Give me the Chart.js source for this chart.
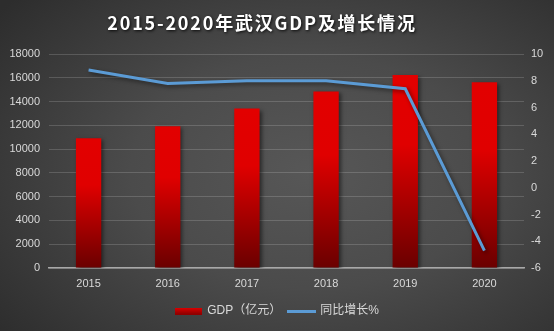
<!DOCTYPE html>
<html>
<head>
<meta charset="utf-8">
<script src="https://cdn.jsdelivr.net/npm/chart.js@4.4.1/dist/chart.umd.min.js"></script>
<style>
  html, body { margin: 0; padding: 0; }
  body { width: 554px; height: 331px; overflow: hidden; }
  #wrap {
    position: relative; width: 554px; height: 331px;
    background: radial-gradient(ellipse 72% 78% at 56% 52%, #575757 0%, #4b4b4b 45%, #2d2d2d 100%);
  }
</style>
</head>
<body>
<div id="wrap"><canvas id="c" width="554" height="331"></canvas></div>
<script>
// Wuhan GDP 2015-2020 and year-on-year growth
const titleText = '2015-2020年武汉GDP及增长情况';
const years = ['2015', '2016', '2017', '2018', '2019', '2020'];
const gdp = [10905.6, 11912.6, 13410.3, 14847.3, 16223.2, 15616.1];
const growth = [8.8, 7.8, 8.0, 8.0, 7.4, -4.7];
const gdpLabel = 'GDP（亿元）';
const growthLabel = '同比增长%';
const gdpTicks = { min: 0, max: 18000, step: 2000 };
const growthTicks = { min: -6, max: 10, step: 2 };

const TEXT = '#d9d9d9';
const BLUE = '#5b9bd5';
const FONT = '"Liberation Sans", "Noto Sans CJK SC", sans-serif';

// vertical red-to-dark-red fill, one gradient per bar
function barFill(ctx) {
  const chart = ctx.chart;
  if (!chart.chartArea || ctx.type !== 'data') return '#e00000';
  const ys = chart.scales.y;
  const top = ys.getPixelForValue(ctx.raw);
  const bottom = ys.getPixelForValue(0);
  const g = chart.ctx.createLinearGradient(0, top, 0, bottom);
  g.addColorStop(0, '#e20000');
  g.addColorStop(0.36, '#e00000');
  g.addColorStop(1, '#6a0000');
  return g;
}

// legend swatches
function barSwatch() {
  const cv = document.createElement('canvas');
  cv.width = 27; cv.height = 7;
  const c = cv.getContext('2d');
  const g = c.createLinearGradient(0, 0, 0, 7);
  g.addColorStop(0, '#e00000'); g.addColorStop(1, '#8a0000');
  c.fillStyle = g; c.fillRect(0, 0, 27, 7);
  return cv;
}
function lineSwatch() {
  const cv = document.createElement('canvas');
  cv.width = 29; cv.height = 3;
  const c = cv.getContext('2d');
  c.fillStyle = BLUE; c.fillRect(0, 0, 29, 3);
  return cv;
}
const swatches = [barSwatch(), lineSwatch()];

const markShadow = {
  id: 'markShadow',
  beforeDatasetDraw(chart) {
    const c = chart.ctx;
    c.save();
    c.shadowColor = 'rgba(0,0,0,0.5)';
    c.shadowBlur = 4;
    c.shadowOffsetX = 2;
    c.shadowOffsetY = 2;
  },
  afterDatasetDraw(chart) { chart.ctx.restore(); }
};

const heading = {
  id: 'heading',
  afterDraw(chart) {
    const c = chart.ctx;
    c.save();
    c.font = 'bold 18px "Noto Sans CJK SC", sans-serif';
    if ('letterSpacing' in c) c.letterSpacing = '1.8px';
    c.fillStyle = '#ffffff';
    c.textAlign = 'center';
    c.textBaseline = 'middle';
    c.shadowColor = 'rgba(0,0,0,0.85)';
    c.shadowBlur = 3;
    c.shadowOffsetX = 1;
    c.shadowOffsetY = 1;
    c.fillText(titleText, 262, 23);
    c.restore();
  }
};

const plain = v => String(v);

new Chart(document.getElementById('c'), {
  data: {
    labels: years,
    datasets: [
      {
        type: 'bar', label: gdpLabel, data: gdp, yAxisID: 'y',
        backgroundColor: barFill, borderWidth: 0,
        barPercentage: 0.32, categoryPercentage: 1, order: 1
      },
      {
        type: 'line', label: growthLabel, data: growth, yAxisID: 'y1',
        borderColor: BLUE, borderWidth: 3, pointRadius: 0, tension: 0,
        fill: false, order: 0
      }
    ]
  },
  options: {
    responsive: false,
    devicePixelRatio: 1,
    animation: false,
    layout: { padding: { top: 54, left: 0, right: 0, bottom: 4 } },
    plugins: {
      title: { display: false },
      tooltip: { enabled: false },
      legend: {
        position: 'bottom',
        labels: {
          color: TEXT,
          font: { family: FONT, size: 12 },
          usePointStyle: true,
          pointStyleWidth: 26,
          boxHeight: 7,
          padding: 7,
          generateLabels(chart) {
            return chart.data.datasets.map((ds, i) => ({
              text: ds.label,
              fillStyle: 'transparent',
              strokeStyle: 'transparent',
              lineWidth: 0,
              pointStyle: swatches[i],
              hidden: false,
              datasetIndex: i,
              fontColor: TEXT
            }));
          }
        }
      }
    },
    scales: {
      x: {
        grid: { display: false, drawTicks: false },
        border: { display: true, color: '#a8a8a8', width: 1.5 },
        ticks: { color: TEXT, font: { family: FONT, size: 11 }, padding: 9 },
        afterFit(s) { s.height = 30; }
      },
      y: {
        position: 'left',
        min: gdpTicks.min, max: gdpTicks.max,
        ticks: { stepSize: gdpTicks.step, color: TEXT, font: { family: FONT, size: 11 }, padding: 9, callback: plain },
        grid: { color: 'rgba(255,255,255,0.16)', drawTicks: false, lineWidth: 1 },
        border: { display: false },
        afterFit(s) { s.width = 49; }
      },
      y1: {
        position: 'right',
        min: growthTicks.min, max: growthTicks.max,
        ticks: { stepSize: growthTicks.step, color: TEXT, font: { family: FONT, size: 11 }, padding: 7, callback: plain },
        grid: { display: false, drawTicks: false },
        border: { display: false },
        afterFit(s) { s.width = 30; }
      }
    }
  },
  plugins: [markShadow, heading]
});
</script>
</body>
</html>
